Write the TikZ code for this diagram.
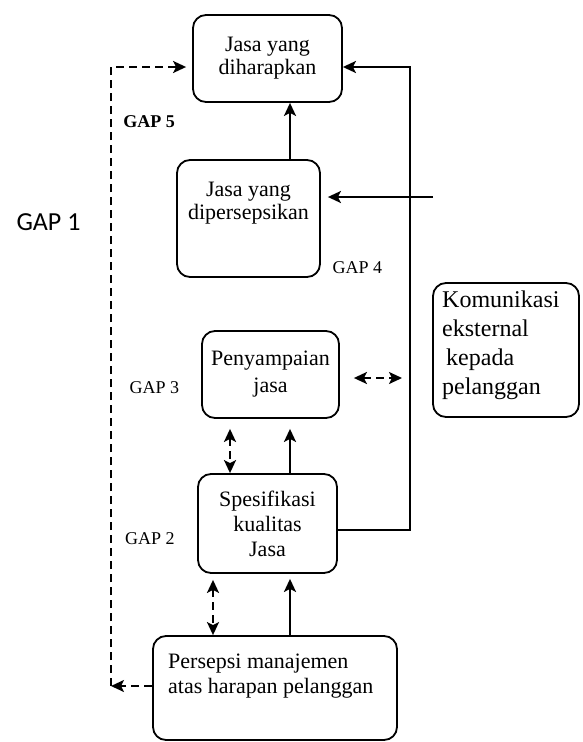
\documentclass[tikz,border=0pt]{standalone}
\usepackage{fontspec}
\setmainfont{Liberation Serif}
\newfontfamily\gapfont{Carlito}
\usetikzlibrary{arrows.meta}
\tikzset{
ARC/.style ={draw=black,line join=miter,line cap=butt,line width=2.2pt},
DASHARC/.style ={ARC,dash pattern=on 8pt off 5pt},
BOX/.style ={draw=black,line width=1.8pt,rounded corners=13pt,inner sep=0pt,align=center},
GAPTEXT/.style={inner sep=0pt,font=\fontsize{18}{20}\selectfont#1},
GAPTEXT/.default = ,
>={Stealth[length=13pt,width=12pt,inset=3pt]},
}
\begin{document}
\begin{tikzpicture} %model lima gap
[x=1pt,y=-1pt, BOXTEXT/.style={inner sep=0pt,align=left,font=\fontsize{22}{25}\selectfont}]
	\useasboundingbox (0,0) rectangle (582,742);
	% kotak
	\node[BOX,minimum width=149,minimum height=87,font=\fontsize{22}{23}\selectfont] (harap) at (267.5,58.5) {Jasa yang\\diharapkan};
	\node[BOX,minimum width=143,minimum height=117] (persep) at (248.5,218.5) {};
	\node[BOXTEXT,align=center,anchor=north,font=\fontsize{22}{23}\selectfont] (persept) at (248.5,182) {Jasa yang\\dipersepsikan};
	\node[BOX,minimum width=137,minimum height=87,font=\fontsize{22}{27}\selectfont] (kirim) at (270.5,374.5) {Penyampaian\\jasa};
	\node[BOX,minimum width=139,minimum height=99,font=\fontsize{22}{25}\selectfont] (spek) at (267.5,523.5) {Spesifikasi\\kualitas\\Jasa};
	\node[BOX,minimum width=244,minimum height=104] (mgmt) at (275,688) {};
	\node[BOXTEXT,anchor=north west] (mgmtt) at (168,654) {Persepsi manajemen\\atas harapan pelanggan};
	\node[BOX,minimum width=146,minimum height=134] (komun) at (506,350) {};
	\node[BOXTEXT,anchor=north west,font=\fontsize{24}{29}\selectfont] (komunt) at (442,291) {Komunikasi\\eksternal\\\hspace{4pt}kepada\\pelanggan};
	% label gap
	\node[GAPTEXT=\bfseries] (gap5) at (149,122) {GAP 5};
	\node[GAPTEXT] (gap4) at (357.5,268) {GAP 4};
	\node[GAPTEXT] (gap3) at (154.5,388) {GAP 3};
	\node[GAPTEXT] (gap2) at (150,539) {GAP 2};
	\node[inner sep=0pt,font=\gapfont\fontsize{26}{28}\selectfont] (gap1) at (48.5,222) {GAP 1};
	% jalur
	\coordinate (colA) at (290,0);
	\coordinate (colB) at (230,0);
	\coordinate (colC) at (213,0);
	\coordinate (rail) at (410,0);
	\coordinate (lrail) at (111,0);
	\coordinate (komIn) at (433,197);
	\coordinate (spekOut) at ([yshift=-6.5pt]spek.east);
	\coordinate (harapIn) at ([yshift=-8.5pt]harap.east);
	\coordinate (harapL) at ([yshift=-8.5pt]harap.west);
	\coordinate (mgmtOut) at ([yshift=2pt]mgmt.west);
	\coordinate (kirimR) at ([yshift=-3.5pt]kirim.east);
	% panah
	\path[ARC,->] (persep.north -| colA) -- (harap.south -| colA);
	\path[ARC,->,shorten >=10pt] (spek.north -| colA) -- (kirim.south -| colA);
	\path[ARC,->,shorten >=5pt] (mgmt.north -| colA) -- (spek.south -| colA);
	\path[ARC,->] (spekOut) -- (spekOut -| rail) -- (harapIn -| rail) -- (harapIn);
	\path[ARC,->,shorten >=7pt] (komIn) -- ([yshift=21.5pt]persep.east);
	\path[DASHARC,<->,shorten <=14pt,shorten >=8pt] (kirimR) -- (kirimR -| rail);
	\path[DASHARC,<->,shorten <=10pt] (kirim.south -| colB) -- (spek.north -| colB);
	\path[DASHARC,<->,shorten <=6pt] (spek.south -| colC) -- (mgmt.north -| colC);
	\path[DASHARC,->] (mgmtOut) -- (mgmtOut -| lrail);
	\path[DASHARC,->,shorten >=6pt] (mgmtOut -| lrail) -- (harapL -| lrail) -- (harapL);
\end{tikzpicture}
\end{document}
